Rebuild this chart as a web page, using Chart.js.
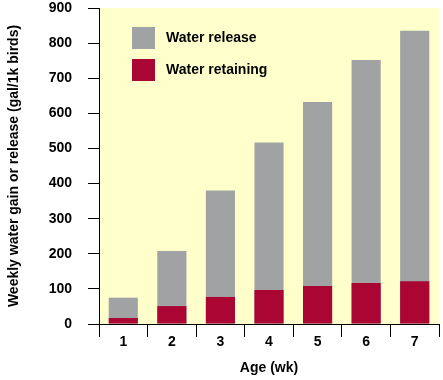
<!DOCTYPE html>
<html><head><meta charset="utf-8">
<script src="https://cdn.jsdelivr.net/npm/chart.js@4/dist/chart.umd.min.js"></script>
<style>html,body{margin:0;padding:0;background:#fff}#wrap{width:443px;height:380px}</style>
</head><body><div id="wrap"><canvas id="c" width="443" height="380"></canvas></div>
<script>
const ages = ['1', '2', '3', '4', '5', '6', '7'];
const waterRelease = [75, 208, 380, 517, 632, 752, 835];
const waterRetaining = [17, 51, 77, 97, 108, 117, 122];
const seriesNames = ['Water release', 'Water retaining'];
const yTickValues = [0, 100, 200, 300, 400, 500, 600, 700, 800, 900];
const xTitle = 'Age (wk)';
const yTitle = 'Weekly water gain or release (gal/1k birds)';

const GRAY = '#a1a2a4';
const RED = '#ab0534';
const FONT = 'Liberation Sans, Arial, Helvetica, sans-serif';

const bgPlugin = {
  id: 'bg',
  beforeDraw(chart) {
    const {ctx, chartArea: a} = chart;
    ctx.save();
    ctx.fillStyle = '#ffffcc';
    ctx.fillRect(a.left, a.top, a.right - a.left, a.bottom - a.top);
    ctx.restore();
  }
};

const legendPlugin = {
  id: 'inlegend',
  afterDraw(chart) {
    const {ctx, chartArea: a} = chart;
    ctx.save();
    ctx.font = 'bold 14px ' + FONT;
    ctx.textBaseline = 'middle';
    ctx.textAlign = 'left';
    chart.data.datasets.forEach((ds, i) => {
      const bx = a.left + 33, by = a.top + 19 + i * 32;
      ctx.fillStyle = ds.backgroundColor;
      ctx.fillRect(bx, by, 23, 22);
      ctx.fillStyle = '#000';
      ctx.fillText(ds.label, bx + 34, by + 11);
    });
    ctx.restore();
  }
};

new Chart(document.getElementById('c'), {
  type: 'bar',
  data: {
    labels: ages,
    datasets: [
      {label: seriesNames[0], data: waterRelease, backgroundColor: GRAY, order: 2, grouped: false},
      {label: seriesNames[1], data: waterRetaining, backgroundColor: RED, order: 1, grouped: false}
    ]
  },
  options: {
    responsive: false,
    animation: false,
    devicePixelRatio: 1,
    layout: {padding: {top: 8, right: 4, left: 0, bottom: 0}},
    plugins: {legend: {display: false}, tooltip: {enabled: false}},
    datasets: {bar: {categoryPercentage: 1, barPercentage: 0.6, borderWidth: 0}},
    scales: {
      x: {
        offset: true,
        grid: {offset: true, drawOnChartArea: false, drawTicks: true, tickLength: 13, color: '#000', lineWidth: 1},
        border: {color: '#000', width: 1},
        ticks: {color: '#000', font: {family: FONT, size: 14, weight: 'bold'}, padding: -3},
        title: {display: true, text: xTitle, color: '#000', font: {family: FONT, size: 14, weight: 'bold'}, padding: {top: 0, bottom: 3.6}},
        afterFit(s) { s.height = 56; s.paddingLeft = 0; s.paddingRight = 0; }
      },
      y: {
        min: 0, max: 900,
        afterBuildTicks(s) { s.ticks = yTickValues.map(v => ({value: v})); },
        grid: {drawOnChartArea: false, drawTicks: true, tickLength: 11, color: '#000', lineWidth: 1},
        border: {color: '#000', width: 1},
        ticks: {color: '#000', font: {family: FONT, size: 14, weight: 'bold'}, padding: 16},
        title: {display: true, text: yTitle, color: '#000', font: {family: FONT, size: 14, weight: 'bold'}, padding: {top: 5.6, bottom: 0}},
        afterFit(s) { s.width = 99; s.paddingTop = 0; s.paddingBottom = 0; }
      }
    }
  },
  plugins: [bgPlugin, legendPlugin]
});
</script>
</body></html>
